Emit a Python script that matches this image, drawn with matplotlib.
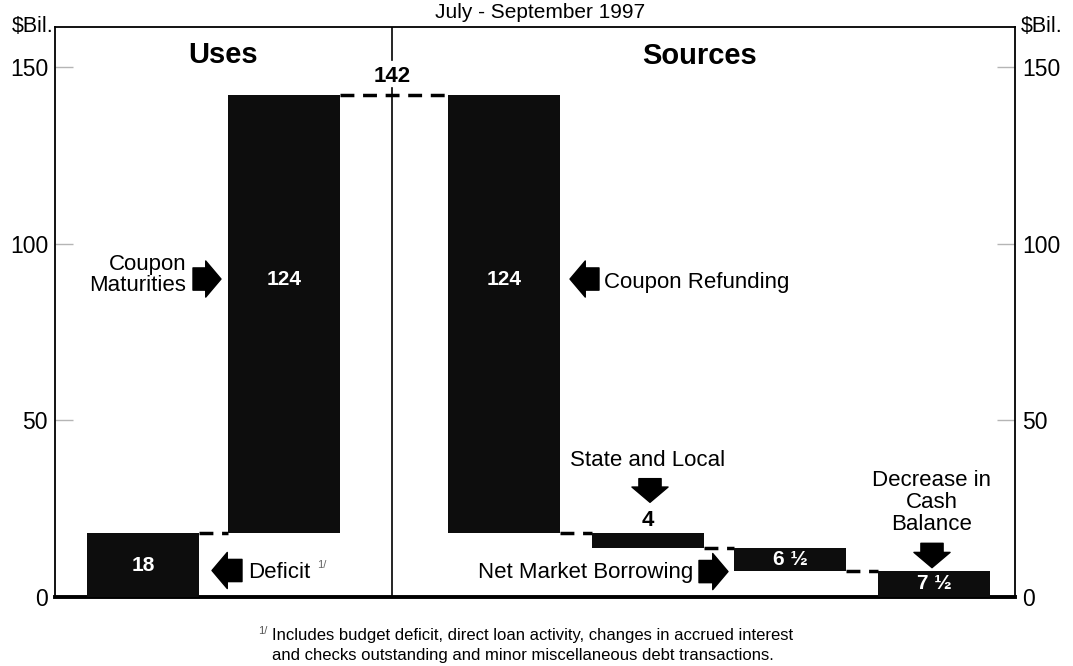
import matplotlib.pyplot as plt
import numpy as np

plt.rcParams['font.family'] = ['Liberation Sans', 'DejaVu Sans']

# data
categories = ['Deficit', 'Coupon Maturities', 'Coupon Refunding',
              'State and Local', 'Net Market Borrowing', 'Decrease in Cash Balance']
amounts = [18, 124, 124, 4, 6.5, 7.5]
sides = ['uses', 'uses', 'sources', 'sources', 'sources', 'sources']
bar_labels = ['18', '124', '124', '4', '6 ½', '7 ½']
total_label = '142'
yticks = [0, 50, 100, 150]

# layout (x positions of the bar centres)
xpos = [0.88, 2.29, 4.49, 5.93, 7.35, 8.79]
bar_w = 1.12
divider_x = 3.37

# waterfall bottoms: uses stack up, sources come back down
bottoms = []
level = 0
for a, s in zip(amounts, sides):
    if s == 'uses':
        bottoms.append(level)
        level += a
    else:
        level -= a
        bottoms.append(level)
total = sum(a for a, s in zip(amounts, sides) if s == 'uses')

fig = plt.figure(figsize=(10.73, 6.66), dpi=100)
ax = fig.add_axes([55 / 1073, 69 / 666, 960 / 1073, 570 / 666])
ax.set_xlim(0, 9.6)
ax.set_ylim(0, 570 / 3.533)

ax.bar(xpos, amounts, bottom=bottoms, width=bar_w, color='#0d0d0d', zorder=3)

# dashed connectors between consecutive bars
for i in range(len(amounts) - 1):
    if sides[i] == 'uses':
        lvl = bottoms[i] + amounts[i]
    else:
        lvl = bottoms[i]
    ax.plot([xpos[i] + bar_w / 2, xpos[i + 1] - bar_w / 2], [lvl, lvl],
            color='black', lw=2.5, dashes=(4, 2.5), zorder=2)

# values in/above bars
for i, lab in enumerate(bar_labels):
    if amounts[i] >= 6:
        ax.text(xpos[i], bottoms[i] + amounts[i] / 2 if amounts[i] < 100 else 90, lab,
                color='white', ha='center', va='center', fontsize=15, fontweight='bold', zorder=4)
    else:
        ax.text(xpos[i], bottoms[i] + amounts[i] + 0.8, lab, color='black',
                ha='center', va='bottom', fontsize=16, fontweight='bold', zorder=4)

# divider between uses and sources
ax.plot([divider_x, divider_x], [0, 144], color='black', lw=1.2, zorder=1)
ax.plot([divider_x, divider_x], [152, 170], color='black', lw=1.2, zorder=1)
ax.text(divider_x, total + 2.3, total_label, ha='center', va='bottom',
        fontsize=16, fontweight='bold')

ax.text(1.68, 153.5, 'Uses', ha='center', va='center', fontsize=21, fontweight='bold')
ax.text(6.45, 153, 'Sources', ha='center', va='center', fontsize=21, fontweight='bold')


def block_arrow(tip, tail):
    ax.annotate('', xy=tip, xytext=tail,
                arrowprops=dict(arrowstyle='simple,head_length=0.55,head_width=1.3,tail_width=0.8',
                                fc='black', ec='black', mutation_scale=20,
                                shrinkA=0, shrinkB=0), zorder=5)


lab_fs = 16
# Coupon maturities
ax.text(1.31, 91, 'Coupon\nMaturities', ha='right', va='center', fontsize=lab_fs,
        multialignment='right', linespacing=1.0)
block_arrow((1.66, 90), (1.38, 90))
# Coupon refunding
block_arrow((5.15, 90), (5.44, 90))
ax.text(5.49, 89, 'Coupon Refunding', ha='left', va='center', fontsize=lab_fs)
# Deficit
block_arrow((1.57, 7.5), (1.87, 7.5))
ax.text(1.93, 7.0, 'Deficit', ha='left', va='center', fontsize=lab_fs)
ax.text(2.62, 9.0, '1/', ha='left', va='center', fontsize=8, color='#666666')
# Net market borrowing
ax.text(6.38, 7.0, 'Net Market Borrowing', ha='right', va='center', fontsize=lab_fs)
block_arrow((6.73, 7.2), (6.44, 7.2))
# State and local
ax.text(5.93, 38.5, 'State and Local', ha='center', va='center', fontsize=lab_fs)
block_arrow((5.95, 26.8), (5.95, 33.5))
# Decrease in cash balance
ax.text(8.77, 26.8, 'Decrease in\nCash\nBalance', ha='center', va='center', fontsize=lab_fs,
        multialignment='center', linespacing=1.05)
block_arrow((8.77, 8.3), (8.77, 15.2))

# axes styling
ax.set_xticks([])
ax.set_yticks(yticks)
ax.tick_params(axis='y', direction='in', length=13, width=1, color='#b5b5b5',
               labelsize=16.5, left=True, right=True, labelleft=True, labelright=True, pad=5)
for s in ['left', 'right', 'top']:
    ax.spines[s].set_linewidth(1.3)
ax.spines['bottom'].set_linewidth(2.8)

ax.text(-0.002, 1.0, '$Bil.', transform=ax.transAxes, ha='right', va='center', fontsize=15.5)
ax.text(1.006, 1.0, '$Bil.', transform=ax.transAxes, ha='left', va='center', fontsize=15.5)

fig.text(0.503, 0.995, 'July - September 1997', ha='center', va='top', fontsize=15)

fig.text(258 / 1073, 0.052, '1/', ha='left', va='center', fontsize=8, color='#555555')
fig.text(272 / 1073, 0.046, 'Includes budget deficit, direct loan activity, changes in accrued interest',
         ha='left', va='center', fontsize=12)
fig.text(272 / 1073, 0.016, 'and checks outstanding and minor miscellaneous debt transactions.',
         ha='left', va='center', fontsize=12)

fig.savefig('out.png', dpi=100)
